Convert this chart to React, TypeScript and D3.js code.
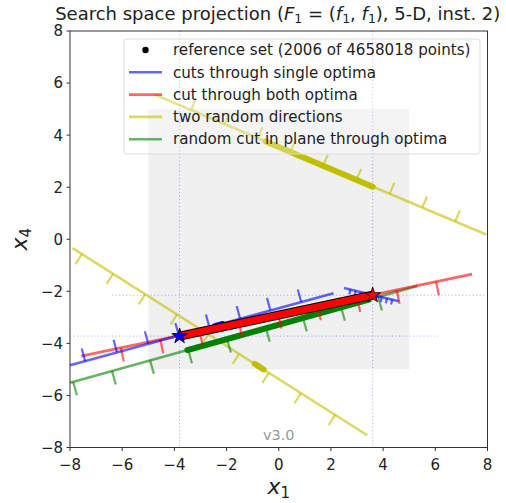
import React from "react";
import * as d3 from "d3";

// ---- data ----
const xTicks = [-8, -6, -4, -2, 0, 2, 4, 6, 8];
const yTicks = [-8, -6, -4, -2, 0, 2, 4, 6, 8];
const optimum1: [number, number] = [-3.8, -3.72];
const optimum2: [number, number] = [3.6, -2.15];
const regionOfInterest = [-5, 5];

// each cut: end points, x positions of ticks, thick segment (x range)
const blue1Ends: [number, number][] = [[-8, -4.84], [2.1, -2.07]];
const blue1Ticks = [-7.42, -6.2, -5.0, -3.83, -2.66, -1.48, -0.32, 0.86];
const blue1Thick = [-2.45, -2.15];

const blue2Ends: [number, number][] = [[2.5, -1.87], [4.6, -2.38]];
const blue2Ticks = [2.75, 2.95, 3.15, 3.35, 3.55, 3.75, 3.95, 4.15, 4.35];

const redEnds: [number, number][] = [[-7.57, -4.49], [7.41, -1.34]];
const redTicks = [-6.05, -4.54, -3.03, -1.52, -0.01, 1.5, 3.01, 4.52, 6.03];

const yellowAEnds: [number, number][] = [[-4.74, 5.55], [7.95, 0.18]];
const yellowATicks = [-3.36, -2.07, -0.8, 0.45, 1.7, 2.98, 4.25, 5.5, 6.76];
const yellowAThick = [-0.5, 3.6];

const yellowBEnds: [number, number][] = [[-7.9, -0.34], [3.39, -7.53]];
const yellowBTicks = [-7.54, -6.35, -5.12, -3.9, -2.7, -1.52, -0.38, 0.85, 2.16];
const yellowBThick = [-0.92, -0.58];

const greenEnds: [number, number][] = [[-8, -5.51], [5.31, -1.8]];
const greenTicks = [-7.88, -6.39, -4.93, -3.47, -1.98, -0.49, 0.93, 2.39, 3.81];
const greenThick = [-3.5, 3.45];

const legendLabels = [
  "reference set (2006 of 4658018 points)",
  "cuts through single optima",
  "cut through both optima",
  "two random directions",
  "random cut in plane through optima",
];
const legendColors = ["#000000", "#0000ff", "#ff0000", "#bfbf00", "#008000"];

// ---- layout ----
const W = 506;
const H = 503;
const x = d3.scaleLinear().domain([-8, 8]).range([70, 487.5]);
const y = d3.scaleLinear().domain([-8, 8]).range([447.5, 31]);

type Cut = {
  ends: [number, number][];
  ticks: number[];
  color: string;
  side: number;
  tickLen: number;
  thick?: number[];
  thickW?: number;
};

const cuts: Cut[] = [
  { ends: yellowBEnds, ticks: yellowBTicks, color: "#bfbf00", side: 1, tickLen: 12, thick: yellowBThick, thickW: 6 },
  { ends: yellowAEnds, ticks: yellowATicks, color: "#bfbf00", side: -1, tickLen: 12, thick: yellowAThick, thickW: 6 },
  { ends: greenEnds, ticks: greenTicks, color: "#008000", side: 1, tickLen: 14, thick: greenThick, thickW: 6 },
  { ends: redEnds, ticks: redTicks, color: "#ff0000", side: 1, tickLen: 14 },
  { ends: blue1Ends, ticks: blue1Ticks, color: "#0000ff", side: -1, tickLen: 13, thick: blue1Thick, thickW: 5 },
  { ends: blue2Ends, ticks: blue2Ticks, color: "#0000ff", side: 1, tickLen: 5 },
];

function yAt(ends: [number, number][], xv: number) {
  const [[x0, y0], [x1, y1]] = ends;
  return y0 + ((xv - x0) * (y1 - y0)) / (x1 - x0);
}

const line = d3.line<[number, number]>().x((d) => x(d[0])).y((d) => y(d[1]));

function CutMarks({ c }: { c: Cut }) {
  const [[x0, y0], [x1, y1]] = c.ends;
  const dx = x(x1) - x(x0);
  const dy = y(y1) - y(y0);
  const len = Math.hypot(dx, dy);
  const nx = (c.side * -dy) / len;
  const ny = (c.side * dx) / len;
  return (
    <g>
      <path d={line(c.ends) || ""} stroke={c.color} strokeOpacity={0.6} strokeWidth={2.6} fill="none" />
      {c.ticks.map((t, i) => {
        const px = x(t);
        const py = y(yAt(c.ends, t));
        return (
          <line
            key={i}
            x1={px}
            y1={py}
            x2={px + nx * c.tickLen}
            y2={py + ny * c.tickLen}
            stroke={c.color}
            strokeOpacity={0.6}
            strokeWidth={2.2}
          />
        );
      })}
      {c.thick && (
        <path
          d={line([[c.thick[0], yAt(c.ends, c.thick[0])], [c.thick[1], yAt(c.ends, c.thick[1])]]) || ""}
          stroke={c.color}
          strokeWidth={c.thickW}
          strokeLinecap="round"
          fill="none"
        />
      )}
    </g>
  );
}

const star = d3.symbol().type(d3.symbolStar).size(75)() || "";
const font = "DejaVu Sans, sans-serif";
const fmt = (t: number) => (t < 0 ? "\u2212" + Math.abs(t) : String(t));

export default function App() {
  return (
    <svg width={W} height={H} style={{ position: "absolute", left: 0, top: 0 }} fontFamily={font}>
      <rect x={0} y={0} width={W} height={H} fill="#fff" />
      {/* region of interest */}
      <rect
        x={x(regionOfInterest[0])}
        y={y(regionOfInterest[1])}
        width={x(regionOfInterest[1]) - x(regionOfInterest[0])}
        height={y(regionOfInterest[0]) - y(regionOfInterest[1])}
        fill="#f0f0f0"
      />
      {/* optimum guide lines */}
      <g stroke="#0000ff" strokeOpacity={0.35} strokeWidth={1} strokeDasharray="1,2.5">
        <line x1={x(optimum1[0])} x2={x(optimum1[0])} y1={y(8)} y2={y(-8)} />
        <line x1={x(optimum2[0])} x2={x(optimum2[0])} y1={y(8)} y2={y(-8)} />
        <line x1={x(-6.38)} x2={x(8)} y1={y(optimum2[1])} y2={y(optimum2[1])} />
        <line x1={x(-8)} x2={x(6.1)} y1={y(optimum1[1])} y2={y(optimum1[1])} />
      </g>
      {cuts.map((c, i) => (
        <CutMarks key={i} c={c} />
      ))}
      {/* reference set and cut segment between optima */}
      <path d={line([optimum1, optimum2]) || ""} stroke="#000" strokeWidth={9} fill="none" />
      <path d={line([optimum1, optimum2]) || ""} stroke="#ff0000" strokeWidth={7} fill="none" />
      <path d={star} transform={`translate(${x(optimum1[0])},${y(optimum1[1])})`} fill="#0000ff" stroke="#000" strokeWidth={0.8} />
      <path d={star} transform={`translate(${x(optimum2[0])},${y(optimum2[1])})`} fill="#ff0000" stroke="#000" strokeWidth={0.8} />

      {/* version */}
      <text x={x(0)} y={440} textAnchor="middle" fontSize={14.5} fill="#999">v3.0</text>

      {/* legend */}
      <rect x={124} y={39} width={356} height={115} rx={3} fill="#fff" fillOpacity={0.3} stroke="#ddd" strokeWidth={1} />
      {legendLabels.map((lab, i) => {
        const cy = 50 + i * 22.3;
        return (
          <g key={i}>
            {i === 0 ? (
              <circle cx={145.5} cy={cy} r={3.2} fill="#000" />
            ) : (
              <line x1={129} x2={162} y1={cy} y2={cy} stroke={legendColors[i]} strokeOpacity={0.6} strokeWidth={2.6} />
            )}
            <text x={173} y={cy} dy="0.35em" fontSize={15.1} fill="#222">{lab}</text>
          </g>
        );
      })}

      {/* axes */}
      <rect x={x(-8)} y={y(8)} width={x(8) - x(-8)} height={y(-8) - y(8)} fill="none" stroke="#333" strokeWidth={1} />
      {xTicks.map((t) => (
        <g key={"x" + t}>
          <line x1={x(t)} x2={x(t)} y1={y(-8)} y2={y(-8) + 3.5} stroke="#333" />
          <text x={x(t)} y={470} textAnchor="middle" fontSize={15} fill="#222">{fmt(t)}</text>
        </g>
      ))}
      {yTicks.map((t) => (
        <g key={"y" + t}>
          <line x1={x(-8) - 3.5} x2={x(-8)} y1={y(t)} y2={y(t)} stroke="#333" />
          <text x={63} y={y(t)} dy="0.36em" textAnchor="end" fontSize={15} fill="#222">{fmt(t)}</text>
        </g>
      ))}
      {/* axis labels */}
      <text x={x(0)} y={494} textAnchor="middle" fontSize={22} fill="#222">
        <tspan fontStyle="italic">x</tspan>
        <tspan fontSize={15} dy={4}>1</tspan>
      </text>
      <text transform={`translate(27,${y(0)}) rotate(-90)`} textAnchor="middle" fontSize={22} fill="#222">
        <tspan fontStyle="italic">x</tspan>
        <tspan fontSize={15} dy={4}>4</tspan>
      </text>
      {/* title */}
      <text x={x(0) - 1} y={20} textAnchor="middle" fontSize={18} fill="#222">
        <tspan>Search space projection (</tspan>
        <tspan fontStyle="italic">F</tspan>
        <tspan fontSize={12.5} dy={3}>1</tspan>
        <tspan dy={-3}> = (</tspan>
        <tspan fontStyle="italic">f</tspan>
        <tspan fontSize={12.5} dy={3}>1</tspan>
        <tspan dy={-3}>, </tspan>
        <tspan fontStyle="italic">f</tspan>
        <tspan fontSize={12.5} dy={3}>1</tspan>
        <tspan dy={-3}>), 5-D, inst. 2)</tspan>
      </text>
    </svg>
  );
}
